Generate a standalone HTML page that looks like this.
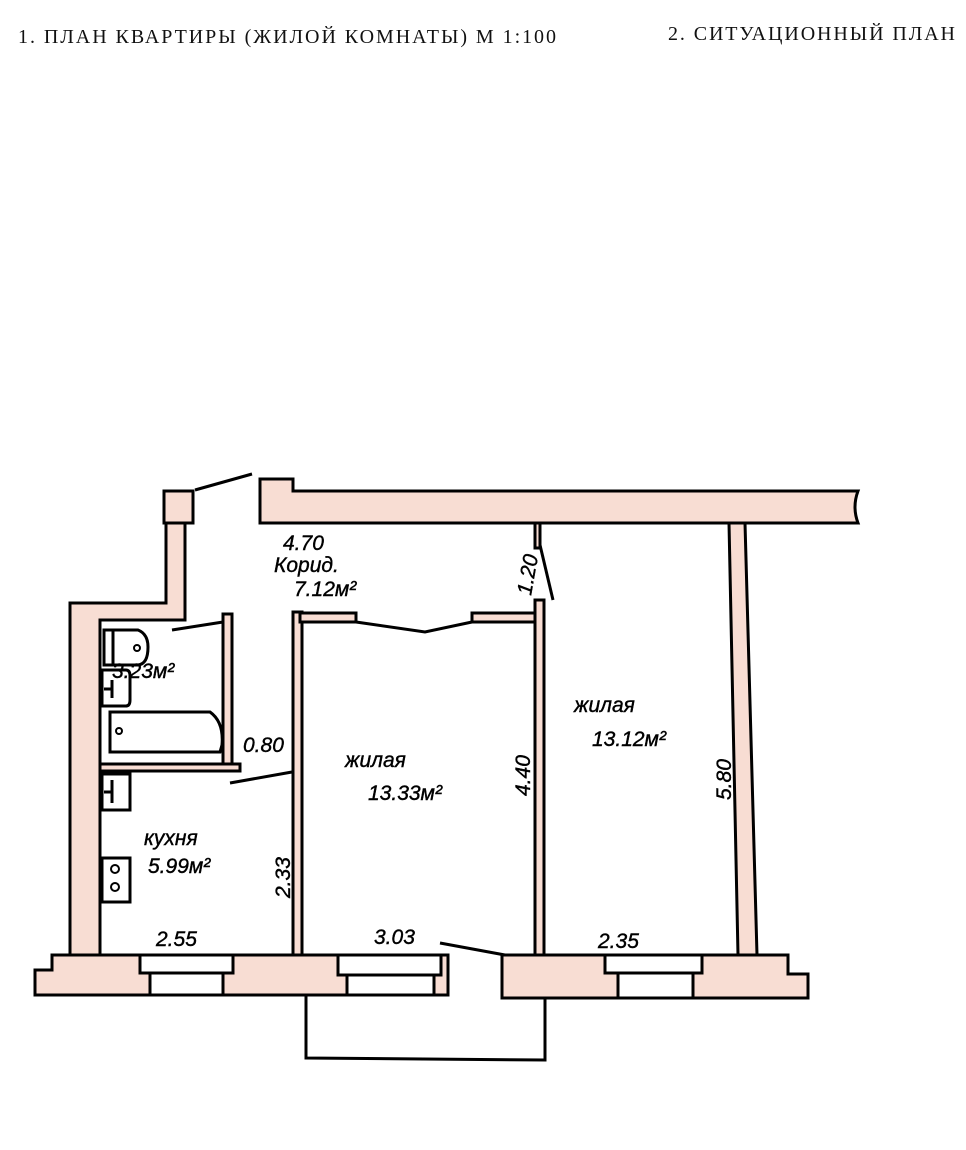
<!DOCTYPE html>
<html><head><meta charset="utf-8"><style>
html,body{margin:0;padding:0;background:#fff;}
svg{display:block}
.h{font-family:"Liberation Serif",serif;font-size:20px;fill:#111}
.t{font-family:"Liberation Sans",sans-serif;font-style:italic;font-size:21px;fill:#000;stroke:#000;stroke-width:0.4}
.w{fill:#f8ddd3;stroke:#000;stroke-width:3}
.l{fill:none;stroke:#000;stroke-width:3}
.f{fill:#fff;stroke:#000;stroke-width:3}
</style></head><body>
<svg width="966" height="1150" viewBox="0 0 966 1150" xmlns="http://www.w3.org/2000/svg">
<text class="h" x="18" y="43" textLength="538" lengthAdjust="spacing">1. ПЛАН  КВАРТИРЫ  (ЖИЛОЙ  КОМНАТЫ)  М 1:100</text>
<text class="h" x="668" y="40" textLength="287" lengthAdjust="spacing">2. СИТУАЦИОННЫЙ  ПЛАН</text>

<path class="w" d="M260,479 L293,479 L293,491 L858,491 Q852,507 858,523 L260,523 Z"/>
<rect class="w" x="164" y="491" width="29" height="32"/>
<line class="l" x1="195" y1="490" x2="252" y2="474"/>
<path class="w" d="M166,523 L185,523 L185,620 L100,620 L100,955 L70,955 L70,603 L166,603 Z"/>
<rect class="w" x="223" y="614" width="9" height="150"/>
<line class="l" x1="172" y1="630" x2="223" y2="622"/>
<rect class="w" x="100" y="764" width="140" height="7"/>
<line class="l" x1="230" y1="783" x2="292" y2="772"/>
<path class="f" d="M104,630 L138,630 Q148,634 148,647 Q148,664 138,665 L104,665 Z"/>
<line class="l" x1="113" y1="630" x2="113" y2="665"/>
<circle cx="137" cy="648" r="3" fill="none" stroke="#000" stroke-width="2"/>
<path class="f" d="M102,670 L126,670 Q130,670 130,676 L130,700 Q130,706 126,706 L102,706 Z"/>
<line class="l" x1="112" y1="680" x2="112" y2="698"/><line class="l" x1="104" y1="689" x2="112" y2="689"/>
<path class="f" d="M110,712 L210,712 Q224,722 222,745 L220,752 L110,752 Z"/>
<circle cx="119" cy="731" r="3" fill="none" stroke="#000" stroke-width="2"/>
<rect class="f" x="102" y="774" width="28" height="36"/>
<line class="l" x1="112" y1="780" x2="112" y2="803"/><line class="l" x1="104" y1="792" x2="112" y2="792"/>
<rect class="f" x="102" y="858" width="28" height="44"/>
<circle cx="115" cy="869" r="4" fill="none" stroke="#000" stroke-width="2"/>
<circle cx="115" cy="887" r="4" fill="none" stroke="#000" stroke-width="2"/>
<rect class="w" x="293" y="612" width="9" height="343"/>
<path class="w" d="M300,613 L356,613 L356,622 L300,622 Z"/>
<path class="w" d="M472,613 L536,613 L536,622 L472,622 Z"/>
<polyline class="l" points="356,622 425,632 472,622" stroke-width="2"/>
<rect class="w" x="535" y="600" width="9" height="355"/>
<rect class="w" x="535" y="523" width="5" height="25"/>
<line class="l" x1="540" y1="545" x2="553" y2="600"/>
<polygon class="w" points="729,523 745,523 757,955 738,955"/>
<path class="w" d="M52,955 L448,955 L448,995 L35,995 L35,970 L52,970 Z"/>
<rect class="f" x="140" y="955" width="93" height="18"/>
<rect class="f" x="150" y="973" width="73" height="22"/>
<rect class="f" x="338" y="955" width="103" height="20"/>
<rect class="f" x="347" y="975" width="87" height="20"/>
<line class="l" x1="440" y1="943" x2="505" y2="955"/>
<path class="w" d="M502,955 L788,955 L788,974 L808,974 L808,998 L502,998 Z"/>
<rect class="f" x="605" y="955" width="97" height="18"/>
<rect class="f" x="618" y="973" width="75" height="25"/>
<polyline class="l" points="306,996 306,1058 545,1060 545,998"/>

<text class="t" x="283" y="550">4.70</text>
<text class="t" x="274" y="572">Корид.</text>
<text class="t" x="294" y="596">7.12м²</text>
<text class="t" x="112" y="678">3.23м²</text>
<text class="t" x="243" y="752">0.80</text>
<text class="t" x="345" y="767">жилая</text>
<text class="t" x="368" y="800">13.33м²</text>
<text class="t" x="144" y="845">кухня</text>
<text class="t" x="148" y="873">5.99м²</text>
<text class="t" x="156" y="946">2.55</text>
<text class="t" x="374" y="944">3.03</text>
<text class="t" x="598" y="948">2.35</text>
<text class="t" x="574" y="712">жилая</text>
<text class="t" x="592" y="746">13.12м²</text>
<text class="t" transform="translate(530,796) rotate(-90)">4.40</text>
<text class="t" transform="translate(731,800) rotate(-90)">5.80</text>
<text class="t" transform="translate(290,898) rotate(-90)">2.33</text>
<text class="t" transform="translate(531,596) rotate(-80)">1.20</text>
</svg>
</body></html>
